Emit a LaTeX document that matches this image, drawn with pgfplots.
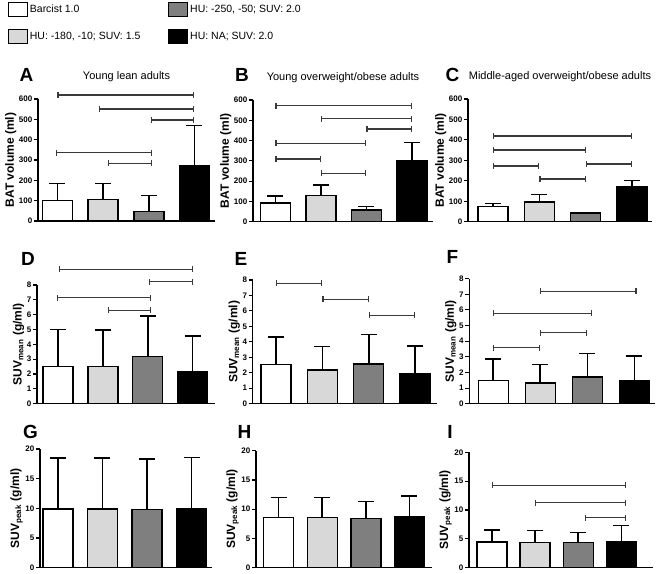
\documentclass[border=0pt]{standalone}
\usepackage{fontspec}
\setmainfont{Liberation Sans}
\usepackage{pgfplots}
\pgfplotsset{compat=1.18}
\usetikzlibrary{arrows.meta}
\definecolor{lg}{HTML}{D8D8D8}
\definecolor{dg}{HTML}{7F7F7F}
\definecolor{sigc}{HTML}{3A3A3A}
\pgfplotsset{
 panel/.style={scale only axis, anchor=south west, axis x line*=bottom, axis y line*=left,
   xtick=\empty, ymin=0, clip=false,
   axis line style={line width=1.3pt, black}, tick align=outside, major tick length=4pt,
   ytick style={line width=1.1pt, black},
   yticklabel style={font=\bfseries\fontsize{8}{9}\selectfont, inner sep=1.5pt},
   /pgf/number format/assume math mode=true,
   ylabel style={font=\bfseries\fontsize{12}{13}\selectfont, inner sep=1pt},
   title style={font=\fontsize{11}{13}\selectfont, at={(axis description cs:0.5,1)}, anchor=center, yshift=16pt}},
 errb/.style={error bars/y dir=plus, error bars/y explicit,
   error bars/error bar style={line width=1.6pt, black},
   error bars/error mark options={rotate=90, mark size=8pt, line width=1.6pt, black}},
 bw/.style={ybar, bar shift=0pt, bar width=30pt, draw=black, line width=1.4pt, fill=white, errb},
 bl/.style={bw, fill=lg},
 bd/.style={bw, fill=dg},
 bk/.style={bw, fill=black},
 sig/.style={draw=sigc, line width=1.2pt, arrows={Bar[width=6pt]-Bar[width=6pt]}},
}
\begin{document}
\begin{tikzpicture}[x=1pt,y=1pt]
\path[use as bounding box] (0,0) rectangle (660,573);

% ---------------- A
\begin{axis}[panel, at={(38pt,352pt)}, width=177pt, height=122pt, xmin=-0.427, xmax=3.45,
  ymax=600, ytick={0,100,...,600}, ylabel={BAT volume (ml)}, title={Young lean adults},
  legend image code/.code={\draw[#1, draw=black, line width=0.8pt] (0pt,-7pt) rectangle (19pt,7pt);},
  legend columns=2, transpose legend, legend cell align=left,
  legend style={at={(axis description cs:-0.17,1.795)}, anchor=north west, draw=none, fill=none,
    font=\fontsize{10.5}{12}\selectfont, row sep=12pt, inner sep=0pt,
    /tikz/every even column/.append style={column sep=26pt}}]
\addlegendimage{fill=white}
\addlegendimage{fill=lg}
\addlegendimage{fill=dg}
\addlegendimage{fill=black}
\legend{Barcist 1.0, {HU: -180, -10; SUV: 1.5}, {HU: -250, -50; SUV: 2.0}, {HU: NA; SUV: 2.0}}
\addplot[bw] coordinates {(0,102) +- (0,83)};
\addplot[bl] coordinates {(1,105) +- (0,80)};
\addplot[bd] coordinates {(2,48) +- (0,77)};
\addplot[bk] coordinates {(3,270) +- (0,199)};
\addplot[sig] coordinates {(0,620) (2.99,620)};
\addplot[sig] coordinates {(0.91,551) (2.99,551)};
\addplot[sig] coordinates {(2.05,497) (2.99,497)};
\addplot[sig] coordinates {(-0.03,336) (2.07,336)};
\addplot[sig] coordinates {(1.1,284) (2.07,284)};
\end{axis}

% ---------------- B
\begin{axis}[panel, at={(253pt,351.3pt)}, width=180pt, height=121.7pt, xmin=-0.49, xmax=3.46,
  ymax=600, ytick={0,100,...,600}, ylabel={BAT volume (ml)}, title={Young overweight/obese adults}]
\addplot[bw] coordinates {(0,92) +- (0,36)};
\addplot[bl] coordinates {(1,128) +- (0,52)};
\addplot[bd] coordinates {(2,58) +- (0,16)};
\addplot[bk] coordinates {(3,302) +- (0,88)};
\addplot[sig] coordinates {(0,572) (3,572)};
\addplot[sig] coordinates {(1,507) (3,507)};
\addplot[sig] coordinates {(2,457) (3,457)};
\addplot[sig] coordinates {(0,387) (2,387)};
\addplot[sig] coordinates {(0,309) (1,309)};
\addplot[sig] coordinates {(1,238) (2,238)};
\end{axis}

% ---------------- C
\begin{axis}[panel, at={(468pt,351.3pt)}, width=184pt, height=122.7pt, xmin=-0.54, xmax=3.43,
  ymax=600, ytick={0,100,...,600}, ylabel={BAT volume (ml)}, title={Middle-aged overweight/obese adults}]
\addplot[bw] coordinates {(0,75) +- (0,14)};
\addplot[bl] coordinates {(1,97) +- (0,36)};
\addplot[bd] coordinates {(2,42) +- (0,3)};
\addplot[bk] coordinates {(3,170) +- (0,32)};
\addplot[sig] coordinates {(0,419) (3,419)};
\addplot[sig] coordinates {(0,351) (2,351)};
\addplot[sig] coordinates {(0,272) (1,272)};
\addplot[sig] coordinates {(2,282) (3,282)};
\addplot[sig] coordinates {(1,209) (2,209)};
\end{axis}

% ---------------- D
\begin{axis}[panel, at={(37pt,169.3pt)}, width=178pt, height=118.7pt, xmin=-0.47, xmax=3.5,
  ymax=8, ytick={0,1,...,8}, ylabel={SUV\textsubscript{mean} (g/ml)}]
\addplot[bw] coordinates {(0,2.5) +- (0,2.5)};
\addplot[bl] coordinates {(1,2.5) +- (0,2.48)};
\addplot[bd] coordinates {(2,3.2) +- (0,2.73)};
\addplot[bk] coordinates {(3,2.16) +- (0,2.4)};
\addplot[sig] coordinates {(0.02,9.06) (3.01,9.06)};
\addplot[sig] coordinates {(2.03,8.22) (3.01,8.22)};
\addplot[sig] coordinates {(-0.02,7.15) (2.08,7.15)};
\addplot[sig] coordinates {(1.12,6.29) (2.08,6.29)};
\end{axis}

% ---------------- E
\begin{axis}[panel, at={(252.7pt,169.3pt)}, width=184.3pt, height=123.7pt, xmin=-0.5, xmax=3.47,
  ymax=8, ytick={0,1,...,8}, ylabel={SUV\textsubscript{mean} (g/ml)}]
\addplot[bw] coordinates {(0,2.54) +- (0,1.77)};
\addplot[bl] coordinates {(1,2.18) +- (0,1.51)};
\addplot[bd] coordinates {(2,2.56) +- (0,1.92)};
\addplot[bk] coordinates {(3,1.94) +- (0,1.79)};
\addplot[sig] coordinates {(0,7.78) (1,7.78)};
\addplot[sig] coordinates {(1,6.75) (2,6.75)};
\addplot[sig] coordinates {(2,5.71) (3,5.71)};
\end{axis}

% ---------------- F
\begin{axis}[panel, at={(469.3pt,169.3pt)}, width=185.7pt, height=125pt, xmin=-0.51, xmax=3.44,
  ymax=8, ytick={0,1,...,8}, ylabel={SUV\textsubscript{mean} (g/ml)}]
\addplot[bw] coordinates {(0,1.49) +- (0,1.37)};
\addplot[bl] coordinates {(1,1.32) +- (0,1.2)};
\addplot[bd] coordinates {(2,1.71) +- (0,1.51)};
\addplot[bk] coordinates {(3,1.49) +- (0,1.56)};
\addplot[sig] coordinates {(1,7.19) (3.05,7.19)};
\addplot[sig] coordinates {(0,5.78) (2.1,5.78)};
\addplot[sig] coordinates {(1,4.54) (2,4.54)};
\addplot[sig] coordinates {(0,3.58) (1,3.58)};
\end{axis}

% ---------------- G
\begin{axis}[panel, at={(40pt,5.3pt)}, width=172pt, height=118.7pt, xmin=-0.4, xmax=3.46,
  ymax=20, ytick={0,5,...,20}, ylabel={SUV\textsubscript{peak} (g/ml)}]
\addplot[bw] coordinates {(0,9.89) +- (0,8.6)};
\addplot[bl] coordinates {(1,9.89) +- (0,8.6)};
\addplot[bd] coordinates {(2,9.83) +- (0,8.47)};
\addplot[bk] coordinates {(3,9.94) +- (0,8.66)};
\end{axis}

% ---------------- H
\begin{axis}[panel, at={(256pt,5.3pt)}, width=175.7pt, height=117pt, xmin=-0.52, xmax=3.51,
  ymax=20, ytick={0,5,...,20}, ylabel={SUV\textsubscript{peak} (g/ml)}]
\addplot[bw] coordinates {(0,8.6) +- (0,3.4)};
\addplot[bl] coordinates {(1,8.6) +- (0,3.4)};
\addplot[bd] coordinates {(2,8.38) +- (0,2.92)};
\addplot[bk] coordinates {(3,8.7) +- (0,3.55)};
\end{axis}

% ---------------- I
\begin{axis}[panel, at={(469pt,5.3pt)}, width=184pt, height=115.4pt, xmin=-0.53, xmax=3.73,
  ymax=20, ytick={0,5,...,20}, ylabel={SUV\textsubscript{peak} (g/ml)}]
\addplot[bw] coordinates {(0,4.45) +- (0,2.08)};
\addplot[bl] coordinates {(1,4.4) +- (0,2.07)};
\addplot[bd] coordinates {(2,4.34) +- (0,1.73)};
\addplot[bk] coordinates {(3,4.57) +- (0,2.71)};
\addplot[sig] coordinates {(0,14.3) (3.1,14.3)};
\addplot[sig] coordinates {(1,11.3) (3.1,11.3)};
\addplot[sig] coordinates {(2.15,8.7) (3.1,8.7)};
\end{axis}

% panel letters
\begin{scope}[every node/.style={font=\bfseries\fontsize{19}{20}\selectfont, inner sep=0pt}]
\node at (26.5,498) {A};
\node at (242,498) {B};
\node at (452.5,498) {C};
\node at (28,314) {D};
\node at (241,314) {E};
\node at (452.5,316) {F};
\node at (30.5,141.5) {G};
\node at (244.5,141) {H};
\node at (450,141) {I};
\end{scope}
\end{tikzpicture}
\end{document}
